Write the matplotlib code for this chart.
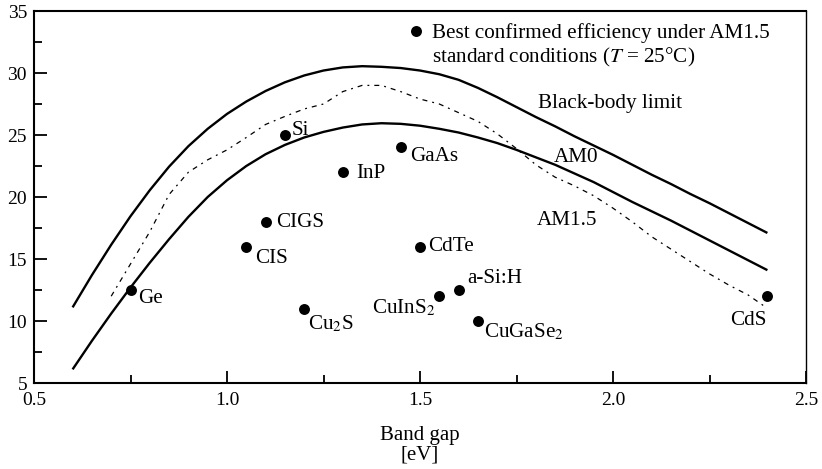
import matplotlib
matplotlib.use("Agg")
import matplotlib.pyplot as plt
from matplotlib.lines import Line2D
from matplotlib.ticker import MultipleLocator, FormatStrFormatter

plt.rcParams['font.family'] = ['Liberation Serif', 'DejaVu Serif']
plt.rcParams['mathtext.fontset'] = 'stix'

# ---- data ----
bb_gap = [0.60, 0.65, 0.70, 0.75, 0.80, 0.85, 0.90, 0.95, 1.00, 1.05, 1.10, 1.15, 1.20, 1.25, 1.30,
          1.35, 1.40, 1.45, 1.50, 1.55, 1.60, 1.65, 1.70, 1.75, 1.80, 1.85, 1.90, 1.95, 2.00, 2.05,
          2.10, 2.15, 2.20, 2.25, 2.30, 2.35, 2.40]
bb_eff = [11.1, 13.7, 16.15, 18.45, 20.55, 22.45, 24.1, 25.5, 26.7, 27.7, 28.55, 29.25, 29.8, 30.2, 30.45,
          30.55, 30.5, 30.4, 30.2, 29.9, 29.45, 28.8, 28.05, 27.25, 26.45, 25.7, 24.9, 24.15, 23.4, 22.6,
          21.8, 21.05, 20.25, 19.5, 18.7, 17.9, 17.1]

am0_gap = [0.60, 0.65, 0.70, 0.75, 0.80, 0.85, 0.90, 0.95, 1.00, 1.05, 1.10, 1.15, 1.20, 1.25, 1.30,
           1.35, 1.40, 1.45, 1.50, 1.55, 1.60, 1.65, 1.70, 1.75, 1.80, 1.85, 1.90, 1.95, 2.00, 2.05,
           2.10, 2.15, 2.20, 2.25, 2.30, 2.35, 2.40]
am0_eff = [6.1, 8.4, 10.6, 12.7, 14.7, 16.6, 18.4, 20.0, 21.35, 22.5, 23.45, 24.2, 24.8, 25.25, 25.6,
           25.85, 25.95, 25.9, 25.75, 25.5, 25.2, 24.8, 24.35, 23.8, 23.2, 22.6, 21.9, 21.2, 20.4, 19.6,
           18.85, 18.1, 17.3, 16.5, 15.7, 14.9, 14.1]

am15_gap = [0.70, 0.75, 0.80, 0.85, 0.90, 0.95, 1.00, 1.05, 1.10, 1.15, 1.20, 1.25, 1.30, 1.35, 1.40,
            1.45, 1.50, 1.55, 1.60, 1.65, 1.70, 1.75, 1.80, 1.85, 1.90, 1.95, 2.00, 2.05, 2.10, 2.15,
            2.20, 2.25, 2.30, 2.35, 2.394]
am15_eff = [12.0, 14.6, 17.2, 20.2, 22.0, 23.0, 23.8, 24.8, 25.85, 26.5, 27.1, 27.5, 28.5, 29.0, 29.0,
            28.5, 27.9, 27.5, 26.8, 26.1, 25.1, 23.9, 22.6, 21.6, 20.9, 20.1, 19.1, 18.0, 16.8, 15.8,
            14.8, 13.8, 12.9, 12.1, 11.15]

materials = ['Ge', 'CIS', 'CIGS', 'Si', 'Cu$_2$S', 'InP', 'GaAs', 'CdTe', 'CuInS$_2$', 'a-Si:H', 'CuGaSe$_2$', 'CdS']
mat_gap = [0.75, 1.05, 1.10, 1.15, 1.20, 1.30, 1.45, 1.50, 1.55, 1.60, 1.65, 2.40]
mat_eff = [12.5, 16.0, 18.0, 25.0, 11.0, 22.0, 24.0, 16.0, 12.0, 12.5, 10.0, 12.0]

curve_labels = ['Black-body limit', 'AM0', 'AM1.5']
legend_lines = ['Best confirmed efficiency under AM1.5', 'standard conditions ($T$ = 25°C)']

# ---- styling (offsets in pixels, alignment) ----
label_style = {
    'Ge': ((8, -13), 'left'),
    'CIS': ((9, -16), 'left'),
    'CIGS': ((11, -5), 'left'),
    'Si': ((7, 0), 'left'),
    'Cu$_2$S': ((4, -21), 'left'),
    'InP': ((13, -6), 'left'),
    'GaAs': ((9, -14), 'left'),
    'CdTe': ((8, -4), 'left'),
    'CuInS$_2$': ((-4, -17), 'right'),
    'a-Si:H': ((9, 7), 'left'),
    'CuGaSe$_2$': ((6, -16), 'left'),
    'CdS': ((-19, -29), 'center'),
}
curve_label_pos = [(1.8065, 27.15), (1.847, 22.85), (1.802, 17.74)]

FS = 15.2
fig = plt.figure(figsize=(8.22, 4.69), dpi=100)
ax = fig.add_axes([34/822, 1-383/469, (806-34)/822, (383-11)/469])

ax.plot(bb_gap, bb_eff, color='black', lw=1.7, solid_capstyle='butt', solid_joinstyle='round')
ax.plot(am0_gap, am0_eff, color='black', lw=1.7, solid_capstyle='butt', solid_joinstyle='round')
ax.plot(am15_gap, am15_eff, color='black', lw=0.9, linestyle=(0, (4, 4, 1.5, 4)))

ax.scatter(mat_gap, mat_eff, s=62, color='black', zorder=3, linewidths=0)

for name, gx, ey in zip(materials, mat_gap, mat_eff):
    off, ha = label_style[name]
    ax.annotate(name, (gx, ey), xytext=off, textcoords='offset pixels',
                ha=ha, va='baseline', fontsize=FS)

for txt, (px, py) in zip(curve_labels, curve_label_pos):
    ax.text(px, py, txt, ha='left', va='baseline', fontsize=FS)

handles = [Line2D([], [], marker='o', linestyle='none', color='black', markersize=7.9, markeredgewidth=0),
           Line2D([], [], linestyle='none')]
ax.legend(handles, legend_lines, loc='upper left', bbox_to_anchor=(0.468, 1.006), frameon=False,
          fontsize=FS, handlelength=0.55, handletextpad=0.5, labelspacing=0.1, borderpad=0.2)

ax.set_xlim(0.5, 2.5)
ax.set_ylim(5, 35)
ax.xaxis.set_major_locator(MultipleLocator(0.5))
ax.xaxis.set_minor_locator(MultipleLocator(0.25))
ax.yaxis.set_major_locator(MultipleLocator(5))
ax.yaxis.set_minor_locator(MultipleLocator(2.5))
ax.xaxis.set_major_formatter(FormatStrFormatter('%.1f'))
ax.yaxis.set_major_formatter(FormatStrFormatter('%d'))
ax.tick_params(which='both', direction='in', top=False, right=False, width=1.3, labelsize=14, pad=5)
ax.tick_params(axis='x', which='both', pad=6.5)
ax.tick_params(which='major', length=9)
ax.tick_params(which='minor', length=6)

for s in ['left', 'bottom', 'top']:
    ax.spines[s].set_linewidth(1.5)
ax.spines['right'].set_linewidth(1.0)

ax.set_xlabel('Band gap\n[eV]', fontsize=15, linespacing=1.05, labelpad=12)

fig.savefig('out.png', dpi=100)
